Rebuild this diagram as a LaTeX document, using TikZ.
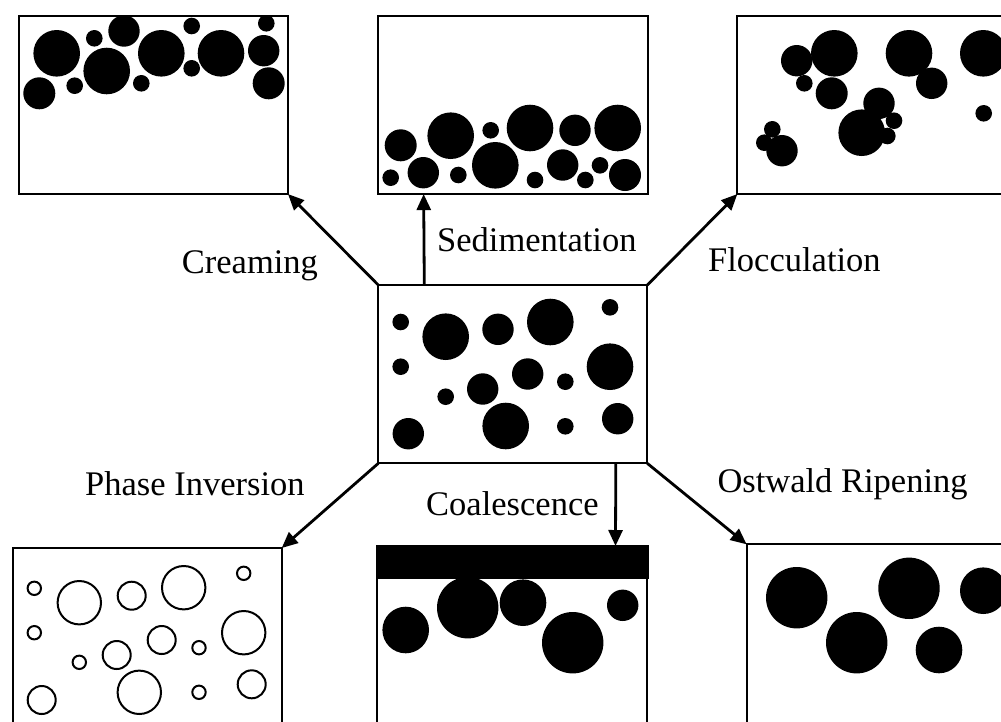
\documentclass[tikz,border=0pt]{standalone}
\usepackage{fontspec}
\setmainfont{Liberation Serif}
\usetikzlibrary{arrows.meta}
\begin{document}
\begin{tikzpicture}[x=1pt,y=-1pt,
  panel/.style={draw, line width=2pt, rectangle, inner sep=0pt, outer sep=0pt},
  lab/.style={font=\fontsize{34.5}{40}\selectfont, inner sep=0pt, anchor=base west},
  arr/.style={line width=2.8pt, -{Triangle[length=16pt,width=14pt]}},
  drop/.style={fill=black},
  ring/.style={draw=black, line width=2pt}]
\clip (0,0) rectangle (1001,721);
\useasboundingbox (0,0) rectangle (1001,721);
% panels
\node[panel, minimum width=269pt, minimum height=178.3pt] (cream) at (153.5,104.9) {};
\node[panel, minimum width=270.3pt, minimum height=178.3pt] (sed) at (512.8,104.9) {};
\node[panel, minimum width=274.7pt, minimum height=178.3pt] (floc) at (874.7,104.9) {};
\node[panel, minimum width=269pt, minimum height=178.3pt] (mid) at (512.8,374.2) {};
\node[panel, minimum width=269pt, minimum height=182pt] (phase) at (147.2,639) {};
\node[panel, minimum width=270pt, minimum height=184pt] (coal) at (512,638) {};
\node[panel, minimum width=265.3pt, minimum height=185.7pt] (ost) at (879.3,637.2) {};
% creaming droplets
\foreach \x/\y/\r in {56.7/53.3/23.3, 94.3/38.3/8.3, 124/31/15.7, 106.7/71/23.3, 74.7/85.7/8.3, 39.3/93.3/16, 141.3/83.3/8.3, 161.3/53.3/23.3, 191.7/26/8.3, 191.7/68.3/8.3, 221/53.3/23.3, 266.3/23.3/8.3, 263.7/50.7/15.7, 268.7/83.3/16}
  \fill[drop] (\x,\y) circle[radius=\r];
% sedimentation droplets
\foreach \x/\y/\r in {400.7/145.3/16, 390.7/177.7/8.3, 423.3/172.7/15.7, 450.7/135.7/23.3, 490.7/130.3/8.3, 458.3/175/8.3, 495.3/165.3/23.3, 530/128/23.3, 535/180/8.3, 575/130.3/15.7, 562.7/165/15.7, 585.3/180/8.3, 600/165.3/8.3, 617.7/128/23.3, 625/175/16}
  \fill[drop] (\x,\y) circle[radius=\r];
% flocculation droplets
\foreach \x/\y/\r in {796.7/60.7/15.7, 834.3/53.3/23.3, 804.3/83.3/8.3, 831.7/93.3/16, 909/53.3/23.3, 931.7/83.3/15.7, 983.3/53.3/23.3, 983.7/113.3/8.3, 879/103.3/15.7, 861.7/132.7/23.3, 894/120.7/8.3, 887.3/136/8.3, 772.3/129.3/8.3, 764.3/142.7/8.3, 782/150.7/15.7}
  \fill[drop] (\x,\y) circle[radius=\r];
% central droplets
\foreach \x/\y/\r in {400.7/322/8.3, 445.7/336.7/23.3, 498/329.3/15.7, 550.3/322/23.3, 610/307.3/8.3, 400.7/366.7/8.3, 527.7/374/15.7, 565.3/381.7/8.3, 610/366.7/23.3, 445.7/396.7/8.3, 482.7/389/15.7, 505.7/426/23.3, 565.3/426.3/8.3, 617.7/418.7/15.7, 408.3/433.7/15.7}
  \fill[drop] (\x,\y) circle[radius=\r];
% phase inversion droplets
\foreach \x/\y/\r in {34.3/588.3/6.7, 79.3/602.7/21.7, 131.7/595.7/14, 183.7/587.7/21.7, 243.7/573.3/6.7, 34.3/632.7/6.7, 161.7/640/14, 199/647.7/6.7, 243.7/632.7/21.7, 79.3/662.3/6.7, 116.7/655/14, 139.3/692.3/21.7, 199/692.3/6.7, 251.7/684.3/14, 41.7/700/14}
  \draw[ring] (\x,\y) circle[radius=\r];
% coalescence
\fill (376,545) rectangle (648.5,579);
\foreach \x/\y/\r in {405.7/630/23.3, 467.7/607.7/30.7, 523/602.7/23.3, 572.7/642.7/30.7, 622.7/605.3/15.7}
  \fill[drop] (\x,\y) circle[radius=\r];
% ostwald
\foreach \x/\y/\r in {796.7/597.7/30.7, 856.7/642.7/30.7, 909/588.3/30.7, 939/650/23.3, 983.3/590.7/23.3}
  \fill[drop] (\x,\y) circle[radius=\r];
% arrows
\draw[arr] (mid.north west) -- (cream.south east);
\draw[arr] ([xshift=46pt]mid.north west) -- ([xshift=46pt]sed.south west);
\draw[arr] (mid.north east) -- (floc.south west);
\draw[arr] (mid.south west) -- (phase.north east);
\draw[arr] ([xshift=-31.5pt]mid.south east) -- ([xshift=-31.5pt]coal.north east);
\draw[arr] (mid.south east) -- (ost.north west);
% labels
\node[lab] (lcream) at (181.7,273.3) {Creaming};
\node[lab] (lsed) at (437,251) {Sedimentation};
\node[lab] (lfloc) at (708,271.7) {Flocculation};
\node[lab] (lphase) at (85,495.7) {Phase Inversion};
\node[lab] (lcoal) at (426,515.7) {Coalescence};
\node[lab] (lost) at (717.3,492.3) {Ostwald Ripening};
\end{tikzpicture}
\end{document}
